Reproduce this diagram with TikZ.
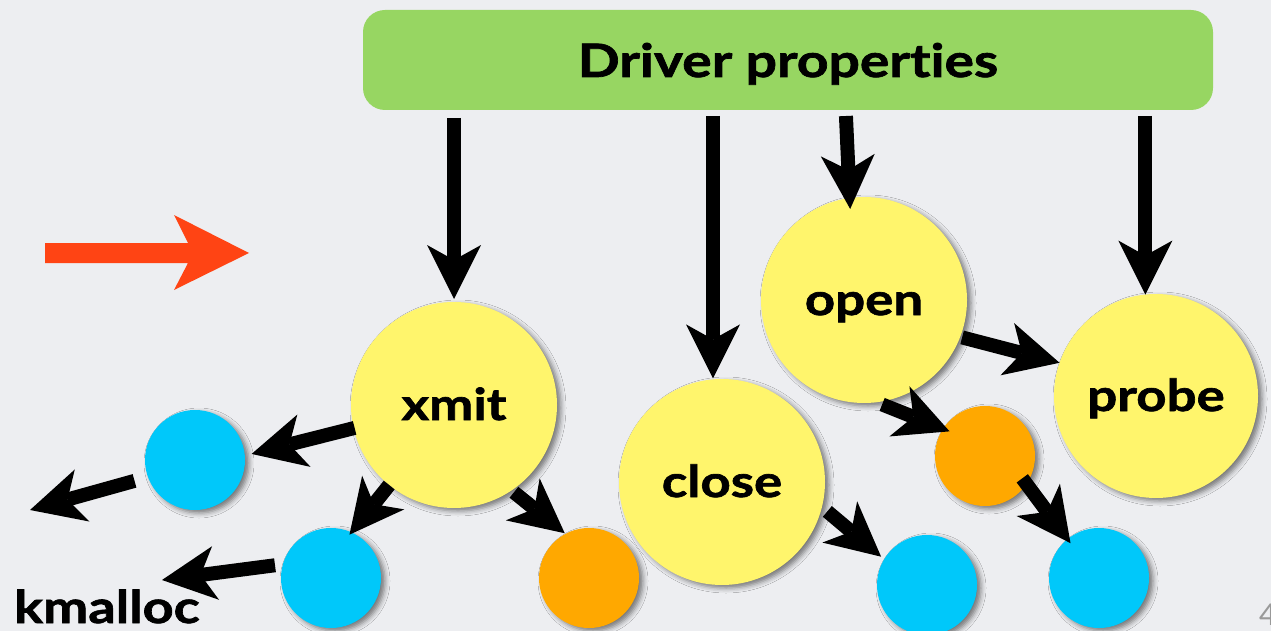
\documentclass[tikz,border=0pt]{standalone}
\usepackage{fontspec}
\setmainfont{Lato}[Ligatures=NoCommon,
  BoldFeatures={FakeStretch=1.2, FakeBold=1.5}]
\usetikzlibrary{arrows.meta,shadows.blur,calc}

\definecolor{bg}{HTML}{EDEEF1}
\definecolor{propgreen}{HTML}{97D662}
\definecolor{fnyellow}{HTML}{FFF56C}
\definecolor{callblue}{HTML}{00C8FA}
\definecolor{callorange}{HTML}{FFA800}
\definecolor{hintred}{HTML}{FF4414}

\tikzset{
  softshadow/.style={blur shadow={shadow xshift=4pt, shadow yshift=-3pt,
      shadow blur radius=5pt, shadow opacity=50}},
  props/.style={rectangle, rounded corners=22pt, fill=propgreen,
      minimum width=850pt, minimum height=100pt, inner sep=0pt, outer sep=0pt,
      text height=34pt, text depth=0pt,
      font=\bfseries\fontsize{46}{50}\selectfont},
  fn/.style={circle, fill=fnyellow, minimum size=206pt, inner sep=0pt,
      outer sep=0pt, text height=30pt, text depth=0pt,
      font=\bfseries\fontsize{44}{48}\selectfont, softshadow},
  leaf/.style={circle, minimum size=100pt, inner sep=0pt, outer sep=0pt, softshadow},
  bluecall/.style={leaf, fill=callblue},
  orangecall/.style={leaf, fill=callorange},
  flow/.style={line width=14pt,
      -{Stealth[length=54pt, width=54pt, inset=15pt, line width=0pt]}},
}

\begin{document}
\begin{tikzpicture}[x=1pt, y=-1pt]
\clip (0,0) rectangle (1271,631);
\fill[bg] (0,0) rectangle (1271,631);
\useasboundingbox (0,0) rectangle (1271,631);

% driver properties bar
\node[props] (box) at (788,60) {Driver properties};

% driver operations
\node[fn] (xmit)  at (454,405) {xmit};
\node[fn] (close) at (722,482) {close};
\node[fn] (open)  at (864,300) {open};
\node[fn, minimum size=204pt] (probe) at (1156,396) {probe};

% helper calls
\node[orangecall] (or2) at (985,456) {};
\node[bluecall]   (bl4) at (1099,578) {};
\node[bluecall]   (bl3) at (927,585) {};
\node[orangecall] (or1) at (589,578) {};
\node[bluecall]   (bl1) at (195,460) {};
\node[bluecall]   (bl2) at (331,578) {};

% red pointer
\fill[hintred] (45,243) -- (188,243) -- (174,215) -- (249,253)
  -- (174,290) -- (188,263) -- (45,263) -- cycle;

% properties feed the operations
\draw[flow, shorten <=8pt, shorten >=3pt] (box.south -| xmit) -- (xmit.north);
\draw[flow, shorten <=6pt, shorten >=1pt] (box.south -| close.95) -- (close.95);
\draw[flow, shorten <=6pt, shorten >=-11pt] ($(box.south -| open.98)+(-4,0)$) -- (open.98);
\draw[flow, shorten <=6pt] (box.south -| probe.96) -- (probe.96);

% call graph
\draw[flow, shorten <=2pt] (open.-21) -- (probe.161);
\draw[flow, shorten <=6pt, shorten >=-7pt] (open.-83) -- (or2.147);
\draw[flow, shorten <=-7pt, shorten >=-5pt] (or2.-34) -- (bl4.129);
\draw[flow, shorten <=7pt, shorten >=4pt] (close.-14) -- (bl3.149);
\draw[flow, shorten <=3pt, shorten >=1pt] (xmit.-56) -- (or1.118);
\draw[flow, shorten >=-3pt] (xmit.231) -- (bl2.66);
\draw[flow, shorten <=-1pt, shorten >=7pt] (xmit.193) -- (bl1.5);

\coordinate (heapA) at (30,510);
\coordinate (heapB) at (162,580);
\draw[flow, shorten <=14pt] (bl1.200) -- (heapA);
\draw[flow, shorten <=8pt] (bl2.164) -- (heapB);

% labels
\node[anchor=base west, inner sep=0pt, font=\bfseries\fontsize{45}{48}\selectfont]
  (kmalloc) at (14,623) {kmalloc};
\node[anchor=base west, inner sep=0pt, text=black!40, font=\fontsize{30}{30}\selectfont]
  (page) at (1259,625) {4};
\end{tikzpicture}
\end{document}
